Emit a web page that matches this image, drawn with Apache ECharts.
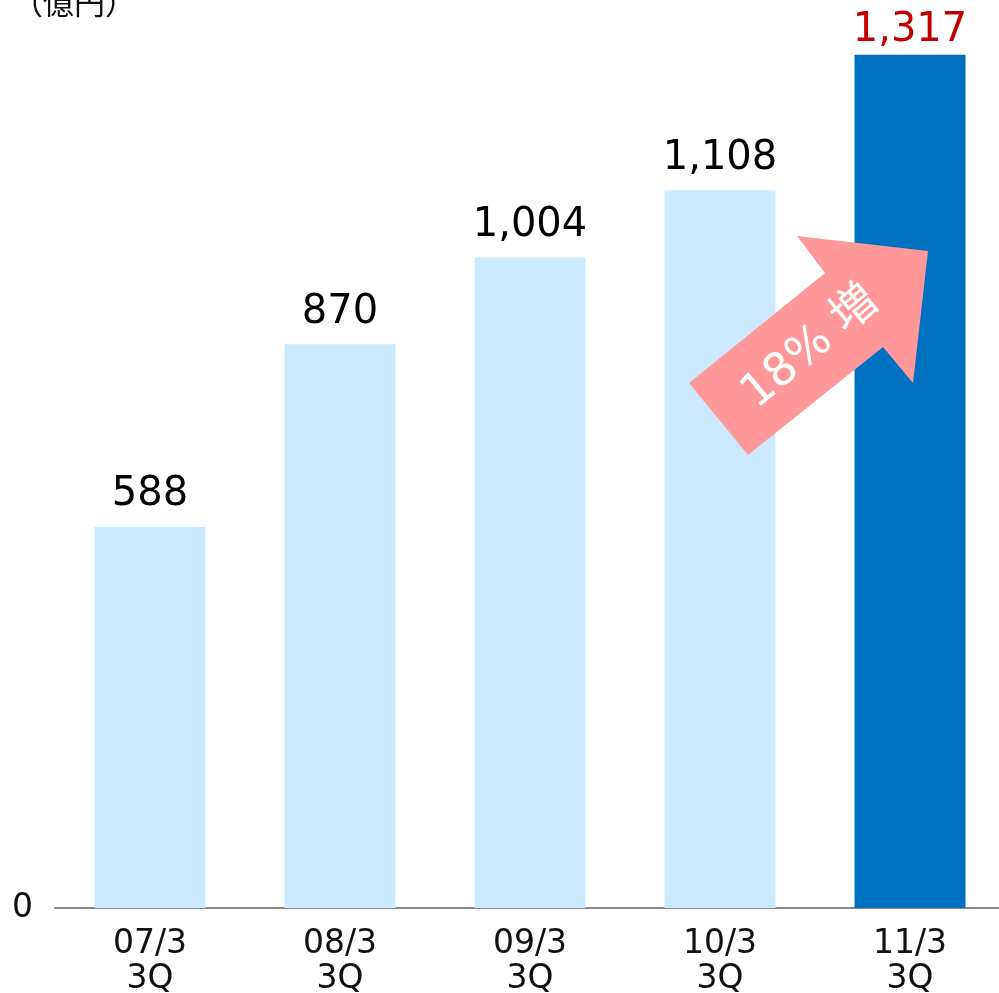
<!DOCTYPE html>
<html><head><meta charset="utf-8">
<script src="https://cdn.jsdelivr.net/npm/echarts@6/dist/echarts.min.js"></script>
<style>html,body{margin:0;padding:0;background:#fff;overflow:hidden}#c{width:999px;height:993px}</style>
</head><body><div id="c"></div>
<script>
const categories = ['07/3\n3Q', '08/3\n3Q', '09/3\n3Q', '10/3\n3Q', '11/3\n3Q'];
const values = [588, 870, 1004, 1108, 1317];
const highlightIndex = 4;
const unitLabel = '（億円）';
const arrowText = '18% 増';

const FONT = '"DejaVu Sans", "Noto Sans CJK JP", sans-serif';
const chart = echarts.init(document.getElementById('c'));
chart.setOption({
  animation: false,
  grid: { left: 55, width: 950, top: 1, height: 907, containLabel: false, outerBoundsMode: 'none' },
  xAxis: {
    type: 'category', data: categories,
    axisLine: { lineStyle: { color: '#888', width: 2 } },
    axisTick: { show: false },
    axisLabel: { fontSize: 33, color: '#111', fontFamily: FONT, lineHeight: 35, margin: 19 }
  },
  yAxis: {
    type: 'value', min: 0, max: 1400, interval: 1400,
    splitLine: { show: false }, axisLine: { show: false }, axisTick: { show: false },
    axisLabel: { fontSize: 33, color: '#111', fontFamily: FONT, margin: 22,
      formatter: v => v === 0 ? '0' : '' }
  },
  series: [{
    type: 'bar', barWidth: 111,
    data: values.map((v, i) => ({
      value: v,
      itemStyle: { color: i === highlightIndex ? '#0070c0' : '#cceaff' },
      label: i === highlightIndex ? { color: '#c00000', distance: 4 } : { color: '#000' }
    })),
    label: {
      show: true, position: 'top', distance: 12, fontSize: 40, fontFamily: FONT,
      formatter: p => p.value.toLocaleString('en-US')
    }
  }],
  graphic: [
    { type: 'text', left: 12, top: -13,
      style: { text: unitLabel, fill: '#111', font: '31px "Noto Sans CJK JP", sans-serif' } },
    { type: 'polygon', z: 10,
      shape: { points: [[689,383],[825,273],[797,236],[928,251],[913,383],[883,347],[748,455]] },
      style: { fill: '#ff9999' } },
    { type: 'text', z: 11, x: 811, y: 348, rotation: 0.7,
      style: { text: arrowText, fill: '#fff', font: '46px ' + FONT, align: 'center', verticalAlign: 'middle' } }
  ]
});
</script></body></html>
